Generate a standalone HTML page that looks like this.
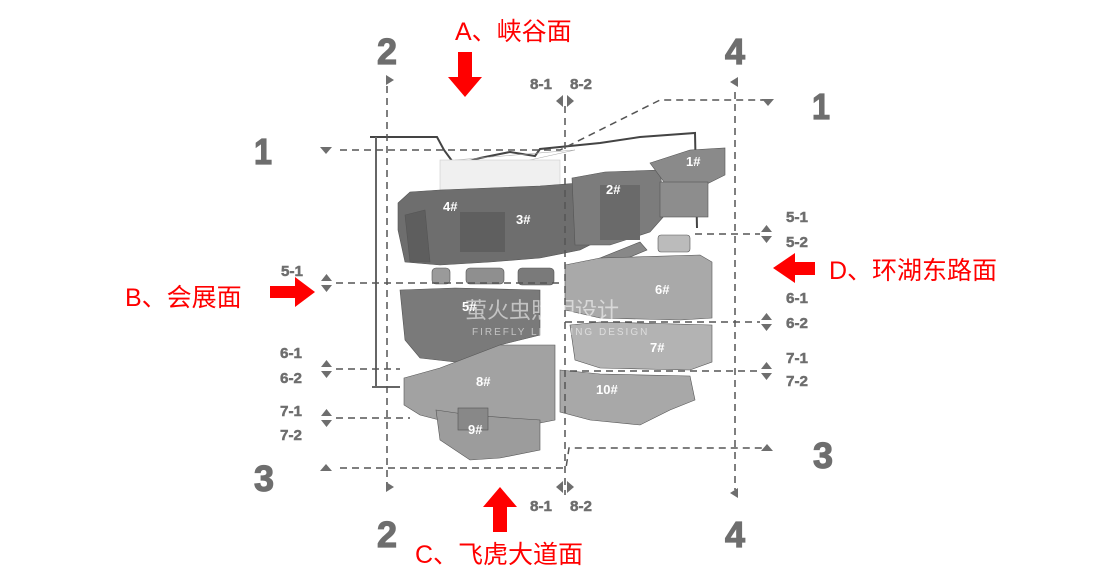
<!DOCTYPE html>
<html><head><meta charset="utf-8"><style>
html,body{margin:0;padding:0;background:#fff;}
svg{display:block;}
.g{font-family:"Liberation Sans",sans-serif;font-weight:bold;fill:#6e6e6e;stroke:#6e6e6e;}
.r{font-family:"Liberation Sans","Noto Sans CJK SC",sans-serif;fill:#ff0000;font-size:25px;}
.w{font-family:"Liberation Sans",sans-serif;font-weight:bold;fill:#fff;font-size:13px;}
</style></head><body>
<svg width="1108" height="585" viewBox="0 0 1108 585" xmlns="http://www.w3.org/2000/svg">
<!-- buildings -->
<g stroke="#555" stroke-width="0.6">
<polyline points="370,137 437,137 444,150 455,165 480,158 510,152 535,156 540,149 600,143 640,137 695,133 697,228" fill="none" stroke="#444" stroke-width="2"/>
<polygon points="455,160 500,168 530,160 575,150" fill="none" stroke="#aaa"/>
<line x1="376" y1="137" x2="376" y2="387" stroke="#666" stroke-width="2"/>
<line x1="372" y1="387" x2="400" y2="387" stroke="#666" stroke-width="2"/>
<rect x="440" y="160" width="120" height="30" fill="#f0f0f0" stroke="#ccc"/>
<polygon points="398,203 410,192 440,190 490,188 540,186 580,183 600,240 580,250 540,258 490,262 440,265 405,262 398,230" fill="#6e6e6e"/>
<polygon points="405,215 425,210 430,262 410,262" fill="#5e5e5e"/>
<polygon points="572,178 605,172 660,170 665,215 650,232 610,245 575,245" fill="#7c7c7c"/>
<polygon points="650,163 690,150 725,148 725,175 705,185 670,190" fill="#8a8a8a"/>
<rect x="660" y="182" width="48" height="35" fill="#8d8d8d"/>
<polygon points="570,270 640,242 647,250 575,280" fill="#888"/>
<rect x="432" y="268" width="18" height="16" rx="4" fill="#9a9a9a"/>
<rect x="466" y="268" width="38" height="16" rx="4" fill="#8f8f8f"/>
<rect x="518" y="268" width="36" height="17" rx="4" fill="#7a7a7a"/>
<rect x="658" y="235" width="32" height="17" rx="3" fill="#bbb"/>
<polygon points="400,290 455,288 540,290 540,335 500,345 500,360 455,362 420,358 405,340" fill="#7a7a7a"/>
<polygon points="565,265 600,258 700,255 712,262 712,318 680,320 600,318 565,310" fill="#a9a9a9"/>
<polygon points="570,325 600,322 712,325 712,362 690,370 600,368 575,360" fill="#b3b3b3"/>
<polygon points="404,378 440,368 500,345 555,345 555,420 530,425 470,428 420,415 404,405" fill="#a2a2a2"/>
<polygon points="560,370 600,374 690,376 695,400 670,410 640,425 590,420 560,412" fill="#a8a8a8"/>
<polygon points="436,410 470,415 510,418 540,420 540,450 500,458 470,460 440,440" fill="#9c9c9c"/>
<rect x="458" y="408" width="30" height="22" fill="#888"/>
<rect x="600" y="185" width="40" height="55" fill="#6a6a6a" stroke="none"/>
<rect x="460" y="212" width="45" height="40" fill="#5f5f5f" stroke="none"/>
</g>
<text x="465" y="318" font-family="Liberation Sans,Noto Sans CJK SC,sans-serif" font-size="22" fill="#fff" opacity="0.55">萤火虫照明设计</text>
<text x="472" y="335" font-family="Liberation Sans,sans-serif" font-size="10" fill="#fff" opacity="0.55" letter-spacing="2">FIREFLY LIGHTING DESIGN</text>
<g class="w">
<text x="686" y="166">1#</text><text x="606" y="194">2#</text><text x="443" y="211">4#</text>
<text x="516" y="224">3#</text><text x="462" y="311">5#</text><text x="655" y="294">6#</text>
<text x="650" y="352">7#</text><text x="476" y="386">8#</text><text x="596" y="394">10#</text>
<text x="468" y="434">9#</text>
</g>
<!-- dashed lines -->
<g stroke="#555" stroke-width="1.5" stroke-dasharray="7,5" fill="none">
<line x1="387" y1="86" x2="387" y2="485"/>
<line x1="565" y1="106" x2="565" y2="495"/>
<line x1="735" y1="92" x2="735" y2="490"/>
<polyline points="340,150 560,150 660,100 770,100"/>
<polyline points="340,468 566,468 569,448 762,448"/>
<line x1="336" y1="283" x2="560" y2="283"/>
<line x1="695" y1="234" x2="760" y2="234"/>
<line x1="336" y1="369" x2="400" y2="369"/>
<line x1="565" y1="322" x2="760" y2="322"/>
<line x1="336" y1="418" x2="410" y2="418"/>
<line x1="570" y1="371" x2="760" y2="371"/>
</g>
<!-- markers -->
<g fill="#6e6e6e">
<polygon points="386,75 394,80 386,85"/><polygon points="386,482 394,487 386,492"/>
<polygon points="738,77 730,82 738,87"/><polygon points="738,488 730,493 738,498"/>
<polygon points="563,95 556,101 563,107"/><polygon points="567,95 574,101 567,107"/>
<polygon points="563,481 556,487 563,493"/><polygon points="567,481 574,487 567,493"/>
<polygon points="320,147 332,147 326,154"/><polygon points="320,471 332,471 326,464"/>
<polygon points="762,99 774,99 768,106"/><polygon points="761,451 773,451 767,444"/>
<polygon points="321,281 332,281 326.5,274"/><polygon points="321,285 332,285 326.5,292"/>
<polygon points="321,367 332,367 326.5,360"/><polygon points="321,371 332,371 326.5,378"/>
<polygon points="321,416 332,416 326.5,409"/><polygon points="321,420 332,420 326.5,427"/>
<polygon points="761,232 772,232 766.5,225"/><polygon points="761,236 772,236 766.5,243"/>
<polygon points="761,320 772,320 766.5,313"/><polygon points="761,324 772,324 766.5,331"/>
<polygon points="761,369 772,369 766.5,362"/><polygon points="761,373 772,373 766.5,380"/>
</g>
<!-- gray labels -->
<g class="g" font-size="36" stroke-width="1.2">
<text x="377" y="64" textLength="20" lengthAdjust="spacingAndGlyphs">2</text><text x="377" y="547" textLength="20" lengthAdjust="spacingAndGlyphs">2</text>
<text x="725" y="64" textLength="20" lengthAdjust="spacingAndGlyphs">4</text><text x="725" y="547" textLength="20" lengthAdjust="spacingAndGlyphs">4</text>
<text x="254" y="164" textLength="18" lengthAdjust="spacingAndGlyphs">1</text><text x="812" y="119" textLength="18" lengthAdjust="spacingAndGlyphs">1</text>
<text x="254" y="491" textLength="20" lengthAdjust="spacingAndGlyphs">3</text><text x="813" y="468" textLength="20" lengthAdjust="spacingAndGlyphs">3</text>
</g>
<g class="g" font-size="15" stroke-width="0.5">
<text x="530" y="89" textLength="22" lengthAdjust="spacingAndGlyphs">8-1</text><text x="570" y="89" textLength="22" lengthAdjust="spacingAndGlyphs">8-2</text>
<text x="530" y="511" textLength="22" lengthAdjust="spacingAndGlyphs">8-1</text><text x="570" y="511" textLength="22" lengthAdjust="spacingAndGlyphs">8-2</text>
<text x="281" y="276" textLength="22" lengthAdjust="spacingAndGlyphs">5-1</text>
<text x="280" y="358" textLength="22" lengthAdjust="spacingAndGlyphs">6-1</text><text x="280" y="383" textLength="22" lengthAdjust="spacingAndGlyphs">6-2</text>
<text x="280" y="416" textLength="22" lengthAdjust="spacingAndGlyphs">7-1</text><text x="280" y="440" textLength="22" lengthAdjust="spacingAndGlyphs">7-2</text>
<text x="786" y="222" textLength="22" lengthAdjust="spacingAndGlyphs">5-1</text><text x="786" y="247" textLength="22" lengthAdjust="spacingAndGlyphs">5-2</text>
<text x="786" y="303" textLength="22" lengthAdjust="spacingAndGlyphs">6-1</text><text x="786" y="328" textLength="22" lengthAdjust="spacingAndGlyphs">6-2</text>
<text x="786" y="363" textLength="22" lengthAdjust="spacingAndGlyphs">7-1</text><text x="786" y="386" textLength="22" lengthAdjust="spacingAndGlyphs">7-2</text>
</g>
<!-- red arrows -->
<g fill="#ff0000">
<polygon points="458,52 472,52 472,77 482,77 465,97 448,77 458,77"/>
<polygon points="493,532 507,532 507,507 517,507 500,487 483,507 493,507"/>
<polygon points="270,286 295,286 295,277 315,292 295,307 295,298 270,298"/>
<polygon points="815,262 795,262 795,253 773,268 795,283 795,275 815,275"/>
</g>
<text class="r" x="455" y="40">A、峡谷面</text>
<text class="r" x="125" y="306">B、会展面</text>
<text class="r" x="415" y="563">C、飞虎大道面</text>
<text class="r" x="829" y="279">D、环湖东路面</text>
</svg>
</body></html>
